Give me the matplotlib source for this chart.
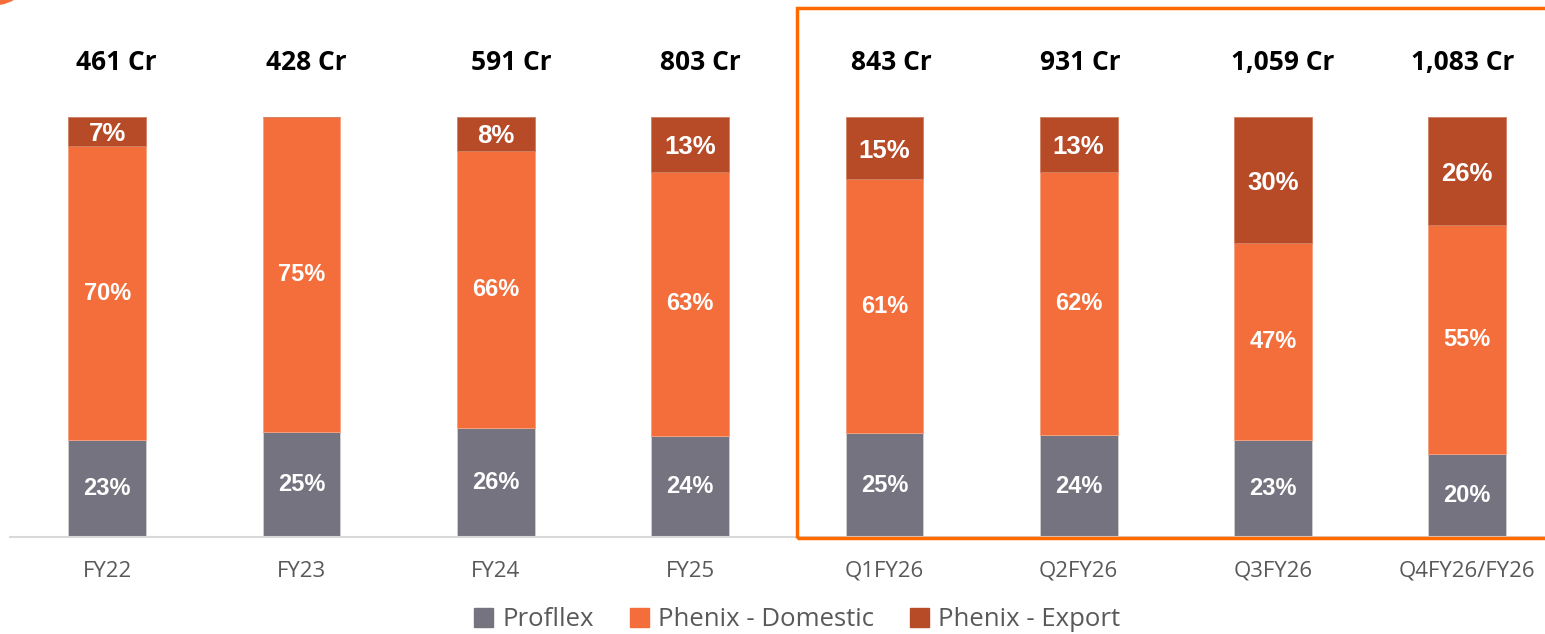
import numpy as np
import matplotlib.pyplot as plt
from matplotlib.patches import Patch, Rectangle, Ellipse

plt.rcParams['font.family'] = ['Open Sans', 'DejaVu Sans']

# data
periods = ["FY22", "FY23", "FY24", "FY25", "Q1FY26", "Q2FY26", "Q3FY26", "Q4FY26/FY26"]
totals = ["461 Cr", "428 Cr", "591 Cr", "803 Cr", "843 Cr", "931 Cr", "1,059 Cr", "1,083 Cr"]
profllex = [23, 25, 26, 24, 25, 24, 23, 20]
domestic = [70, 75, 66, 63, 61, 62, 47, 55]
export = [7, 0, 8, 13, 15, 13, 30, 26]

# total labels in the source are hand placed text boxes, slightly off centre (px)
total_dx = [9, 5, 16, 10, 7, 2, 10, -5]

c_grey = "#74737F"
c_dom = "#F36E3A"
c_exp = "#B84B27"

W, H = 1545, 634
fig = plt.figure(figsize=(W / 100, H / 100), dpi=100)
ax = fig.add_axes([10 / W, 1 - 537 / H, 1 - 10 / W, (537 - 117) / H])

x = np.arange(len(periods))
p = np.array(profllex, float)
d = np.array(domestic, float)
e = np.array(export, float)
s = p + d + e
p, d, e = p / s * 100, d / s * 100, e / s * 100

bw = 0.4
ax.bar(x, p, bw, color=c_grey, edgecolor="#d0d0d0", linewidth=0.6)
ax.bar(x, d, bw, bottom=p, color=c_dom, edgecolor="#f5a080", linewidth=0.6)
ax.bar(x, e, bw, bottom=p + d, color=c_exp, edgecolor="#d08060", linewidth=0.6)

px_per_cat = (W - 10) / 7.9
lbl = dict(ha="center", va="center", color="white", fontweight="bold",
           family=["Liberation Sans", "DejaVu Sans"])
for i in range(len(x)):
    ax.text(x[i], p[i] / 2, f"{profllex[i]}%", fontsize=17, **lbl)
    ax.text(x[i], p[i] + d[i] / 2, f"{domestic[i]}%", fontsize=17, **lbl)
    if export[i] > 0:
        ax.text(x[i], p[i] + d[i] + e[i] / 2 - 0.6, f"{export[i]}%", fontsize=18.5, **lbl)
    ax.text(x[i] + total_dx[i] / px_per_cat, 113, totals[i], ha="center", va="center",
            color="black", fontweight="bold", fontsize=19)

ax.set_xlim(-0.5, 7.4)
ax.set_ylim(0, 100)
ax.set_xticks(x)
ax.set_xticklabels(periods, fontsize=16, color="#595959")
ax.tick_params(axis="x", length=0, pad=17)
ax.set_yticks([])
for sp in ["top", "left", "right"]:
    ax.spines[sp].set_visible(False)
ax.spines["bottom"].set_color("#D9D9D9")
ax.spines["bottom"].set_linewidth(1.5)

# highlight frame around quarterly bars
fig.add_artist(Rectangle((797 / W, 1 - 538 / H), (W + 20 - 797) / W, (538 - 8) / H,
                         transform=fig.transFigure, fill=False,
                         edgecolor="#FF6A00", linewidth=2.5))
fig.add_artist(Ellipse((-8 / W, 1 + 30 / H), 80 / W, 70 / H,
                       transform=fig.transFigure, color=c_dom))

handles = [Patch(color=c_grey), Patch(color=c_dom), Patch(color=c_exp)]
fig.legend(handles, ["Profllex", "Phenix - Domestic", "Phenix - Export"],
           loc="center", bbox_to_anchor=(797 / W, 1 - 620 / H), ncol=3,
           frameon=False, fontsize=18.5, labelcolor="#595959",
           handlelength=0.75, handleheight=0.75, handletextpad=0.35, columnspacing=1.4)

fig.savefig("out.png", dpi=100)
